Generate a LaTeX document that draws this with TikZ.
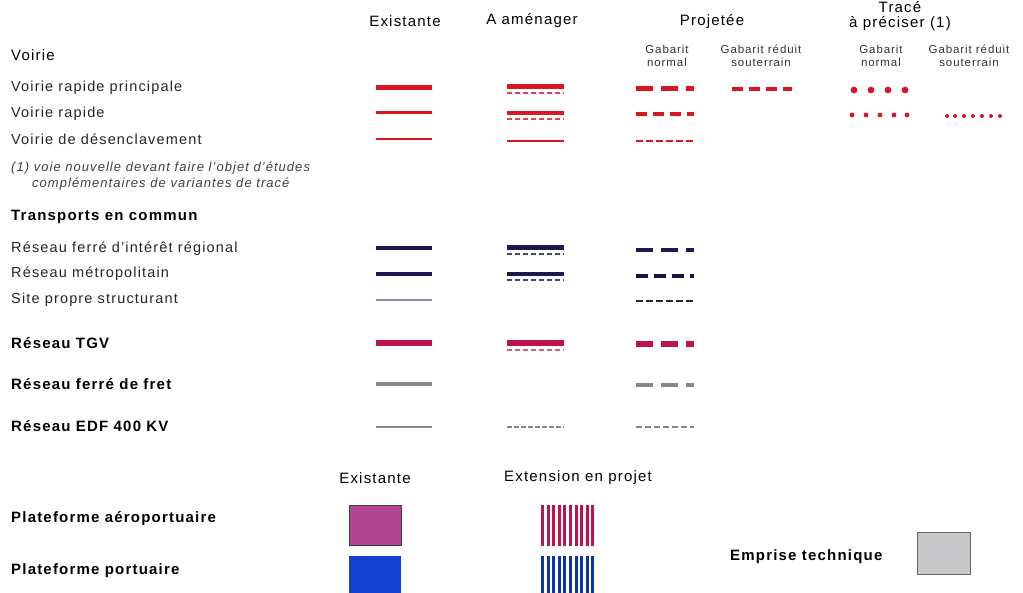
\documentclass[tikz,border=0pt]{standalone}
\usepackage{fontspec}
\setmainfont{Liberation Sans}[LetterSpace=8]
\definecolor{rd}{RGB}{218,22,32}
\definecolor{nv}{RGB}{28,26,80}
\definecolor{tg}{RGB}{190,20,78}
\definecolor{gr}{RGB}{135,135,135}
\definecolor{lav}{RGB}{140,140,185}
\definecolor{mag}{RGB}{176,70,145}
\definecolor{bl}{RGB}{20,65,210}
\definecolor{emp}{RGB}{200,200,202}
\tikzset{
  lab/.style={anchor=west, inner sep=0pt, text=black!85, font=\fontsize{14.5}{16}\selectfont},
  sect/.style={anchor=west, inner sep=0pt, text=black, font=\fontsize{15}{17}\selectfont\bfseries},
  head/.style={inner sep=0pt, text=black, font=\fontsize{15}{17}\selectfont},
  sub/.style={inner sep=0pt, text=black!80, align=center, font=\fontsize{11.5}{12.5}\selectfont},
  note/.style={anchor=west, inner sep=0pt, text=black!75, font=\fontsize{13}{15}\selectfont\itshape},
}
\newcommand{\amen}[3]{% y, color, thickness
  \draw[#2, line width=#3] (507,#1) -- (564,#1);
  \draw[#2!80!white, line width=1.4pt, dash pattern=on 5pt off 3pt] (507,#1+6) -- (564,#1+6);
}
\begin{document}
\begin{tikzpicture}[x=1pt,y=-1pt]
\useasboundingbox (0,0) rectangle (1023,593);
\fill[white] (0,0) rectangle (1023,593);
% headers
\node[head] (hex) at (405,21) {Existante};
\node[head] (ham) at (532,21) {A aménager};
\node[head] (hpr) at (712,22) {Projetée};
\node[head] (htr1) at (900,7) {Tracé};
\node[head] (htr2) at (900,24) {à préciser (1)};
\node[sub] (s1) at (667,56) {Gabarit\\normal};
\node[sub] (s2) at (761,56) {Gabarit réduit\\souterrain};
\node[sub] (s3) at (881,56) {Gabarit\\normal};
\node[sub] (s4) at (969,56) {Gabarit réduit\\souterrain};
% left labels
\node[sect,font=\fontsize{15}{17}\selectfont] (voirie) at (11,55) {Voirie};
\node[lab] (l1) at (11,88) {Voirie rapide principale};
\node[lab] (l2) at (11,114) {Voirie rapide};
\node[lab] (l3) at (11,139) {Voirie de désenclavement};
\node[note] (n1) at (11,168) {(1) voie nouvelle devant faire l'objet d'études};
\node[note] (n2) at (32,184) {complémentaires de variantes de tracé};
\node[sect] (tc) at (11,217) {Transports en commun};
\node[lab] (l4) at (11,249) {Réseau ferré d'intérêt régional};
\node[lab] (l5) at (11,274) {Réseau métropolitain};
\node[lab] (l6) at (11,300) {Site propre structurant};
\node[sect] (l7) at (11,343) {Réseau TGV};
\node[sect] (l8) at (11,384) {Réseau ferré de fret};
\node[sect] (l9) at (11,426) {Réseau EDF 400 KV};
% Voirie rows
\draw[rd, line width=5pt] (376,88) -- (432,88);
\amen{87}{rd}{5pt}
\draw[rd, line width=5pt, dash pattern=on 17pt off 8pt] (636,89) -- (694,89);
\draw[rd, line width=4pt, dash pattern=on 11pt off 6pt] (732,89) -- (792,89);
\foreach \x in {854,871,888,905} \fill[rd] (\x,90) circle (3.4pt);
\draw[rd, line width=3pt] (376,113) -- (432,113);
\amen{113}{rd}{3.5pt}
\draw[rd, line width=3.5pt, dash pattern=on 11pt off 6pt] (636,114) -- (694,114);
\foreach \x in {852,866,880,894,907} \fill[rd] (\x,115) circle (2.4pt);
\foreach \x in {947,955,964,973,982,991,1000} \fill[rd] (\x,116) circle (2pt);
\draw[rd, line width=2pt] (376,139) -- (432,139);
\draw[rd, line width=2.6pt] (507,141) -- (564,141);
\draw[rd, line width=1.5pt, dash pattern=on 7pt off 3pt] (636,141) -- (694,141);
% Transports
\draw[nv, line width=3.4pt] (376,248) -- (432,248);
\amen{248}{nv}{5pt}
\draw[nv, line width=4pt, dash pattern=on 17pt off 8pt] (636,250) -- (694,250);
\draw[nv, line width=3.4pt] (376,274) -- (432,274);
\amen{274}{nv}{4.5pt}
\draw[nv!80!black, line width=3.4pt, dash pattern=on 12pt off 6pt] (636,276) -- (694,276);
\draw[lav, line width=2pt] (376,300) -- (432,300);
\draw[black!85, line width=1.4pt, dash pattern=on 7pt off 3pt] (636,301) -- (694,301);
% TGV
\draw[tg, line width=5.5pt] (376,343) -- (432,343);
\draw[tg, line width=5.5pt] (507,343) -- (564,343);
\draw[tg!70!white, line width=1.4pt, dash pattern=on 5pt off 3pt] (507,350) -- (564,350);
\draw[tg, line width=5.5pt, dash pattern=on 17pt off 8pt] (636,344) -- (694,344);
% fret
\draw[gr, line width=4.5pt] (376,384) -- (432,384);
\draw[gr, line width=4.5pt, dash pattern=on 17pt off 8pt] (636,385) -- (694,385);
% EDF
\draw[gr, line width=1.1pt] (376,427) -- (432,427);
\draw[gr, line width=1.3pt, dash pattern=on 5pt off 2pt] (507,427) -- (564,427);
\draw[gr, line width=1.3pt, dash pattern=on 6pt off 3pt] (636,427) -- (694,427);
% bottom
\node[head] (bex) at (375,478) {Existante};
\node[head] (bext) at (578,478) {Extension en projet};
\node[sect] (pa) at (11,519) {Plateforme aéroportuaire};
\node[sect] (pp) at (11,571) {Plateforme portuaire};
\node[sect] (et) at (730,557) {Emprise technique};
\draw[black!75, fill=mag, line width=0.8pt] (349,505) rectangle (401,545);
\fill[bl] (349,556) rectangle (401,596);
\fill[white] (541,505) rectangle (595,546);
\foreach \i in {0,...,9} \fill[tg] (541+\i*5.6,505) rectangle (544+\i*5.6,546);
\fill[white] (541,556) rectangle (595,596);
\foreach \i in {0,...,9} \fill[bl!80!black] (541+\i*5.6,556) rectangle (544+\i*5.6,596);
\draw[black!60, fill=emp, line width=0.9pt] (917,532) rectangle (970,574);
\end{tikzpicture}
\end{document}
